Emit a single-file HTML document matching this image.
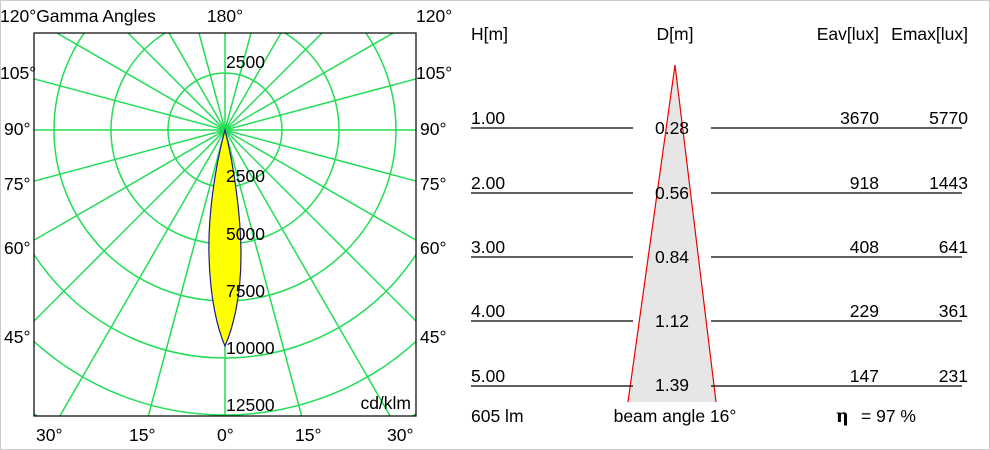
<!DOCTYPE html>
<html><head><style>
html,body{margin:0;padding:0;background:#fff;width:990px;height:450px;overflow:hidden}
svg{display:block}
text{font-family:"Liberation Sans",Arial,sans-serif;font-size:17.5px;fill:#000}
</style></head><body>
<svg width="990" height="450" viewBox="0 0 990 450">
<rect x="0.5" y="0.5" width="989" height="449" fill="#fff" stroke="#ccc"/>
<defs><clipPath id="c"><rect x="34" y="33" width="382" height="383"/></clipPath></defs>
<g clip-path="url(#c)" stroke="#22dd55" stroke-width="1.5" fill="none">
<circle cx="225" cy="130" r="57"/><circle cx="225" cy="130" r="114"/><circle cx="225" cy="130" r="171"/>
<circle cx="225" cy="130" r="228"/><circle cx="225" cy="130" r="285"/><circle cx="225" cy="130" r="342"/>
<line x1="-375" y1="130" x2="825" y2="130"/>
<line x1="225" y1="-470" x2="225" y2="730"/>
<line x1="-355" y1="-25.3" x2="805" y2="285.3"/>
<line x1="-355" y1="285.3" x2="805" y2="-25.3"/>
<line x1="-295" y1="-170" x2="745" y2="430"/>
<line x1="-295" y1="430" x2="745" y2="-170"/>
<line x1="-199" y1="-294" x2="649" y2="554"/>
<line x1="-199" y1="554" x2="649" y2="-294"/>
<line x1="-75" y1="-389.6" x2="525" y2="649.6"/>
<line x1="-75" y1="649.6" x2="525" y2="-389.6"/>
<line x1="69.7" y1="-449.6" x2="380.3" y2="709.6"/>
<line x1="69.7" y1="709.6" x2="380.3" y2="-449.6"/>
</g>
<path d="M225,130 C214,170 208,220 209,255 C210,300 218,330 225,346 C232,330 241,300 241,255 C241,220 235,170 225,130Z" fill="#ffff00" stroke="#1a1a8a" stroke-width="1.2"/>
<rect x="34" y="33" width="382" height="383" fill="none" stroke="#000" stroke-width="1.2"/>
<text x="226" y="68">2500</text>
<text x="226" y="182">2500</text>
<text x="226" y="240">5000</text>
<text x="226" y="297">7500</text>
<text x="226" y="354">10000</text>
<text x="226" y="411">12500</text>
<text x="411" y="409" text-anchor="end">cd/klm</text>
<text x="0" y="22">120°Gamma Angles</text>
<text x="225" y="22" text-anchor="middle">180°</text>
<text x="416" y="22">120°</text>
<text x="0" y="79">105°</text><text x="416" y="79">105°</text>
<text x="4" y="135">90°</text><text x="420" y="135">90°</text>
<text x="4" y="190">75°</text><text x="420" y="190">75°</text>
<text x="4" y="254">60°</text><text x="420" y="254">60°</text>
<text x="4" y="343">45°</text><text x="420" y="343">45°</text>
<text x="36" y="441">30°</text><text x="129" y="441">15°</text><text x="217" y="441">0°</text>
<text x="295" y="441">15°</text><text x="387" y="441">30°</text>

<text x="471" y="40">H[m]</text>
<text x="675" y="40" text-anchor="middle">D[m]</text>
<text x="879" y="40" text-anchor="end">Eav[lux]</text>
<text x="968" y="40" text-anchor="end">Emax[lux]</text>
<polygon points="675,65 628,402 716,402" fill="#e6e6e6"/>
<line x1="675" y1="65" x2="628" y2="402" stroke="#e00" stroke-width="1.2"/>
<line x1="675" y1="65" x2="716" y2="402" stroke="#e00" stroke-width="1.2"/>
<g stroke="#000" stroke-width="1.2">
<line x1="471" y1="128" x2="633" y2="128"/><line x1="711" y1="128" x2="962" y2="128"/>
<line x1="471" y1="193" x2="633" y2="193"/><line x1="711" y1="193" x2="962" y2="193"/>
<line x1="471" y1="257" x2="633" y2="257"/><line x1="711" y1="257" x2="962" y2="257"/>
<line x1="471" y1="321" x2="633" y2="321"/><line x1="711" y1="321" x2="962" y2="321"/>
<line x1="471" y1="386" x2="633" y2="386"/><line x1="711" y1="386" x2="962" y2="386"/>
</g>
<g>
<text x="471" y="124">1.00</text><text x="672" y="134" text-anchor="middle">0.28</text><text x="879" y="124" text-anchor="end">3670</text><text x="968" y="124" text-anchor="end">5770</text>
<text x="471" y="189">2.00</text><text x="672" y="199" text-anchor="middle">0.56</text><text x="879" y="189" text-anchor="end">918</text><text x="968" y="189" text-anchor="end">1443</text>
<text x="471" y="253">3.00</text><text x="672" y="263" text-anchor="middle">0.84</text><text x="879" y="253" text-anchor="end">408</text><text x="968" y="253" text-anchor="end">641</text>
<text x="471" y="317">4.00</text><text x="672" y="327" text-anchor="middle">1.12</text><text x="879" y="317" text-anchor="end">229</text><text x="968" y="317" text-anchor="end">361</text>
<text x="471" y="382">5.00</text><text x="672" y="391" text-anchor="middle">1.39</text><text x="879" y="382" text-anchor="end">147</text><text x="968" y="382" text-anchor="end">231</text>
</g>
<text x="471" y="422">605 lm</text>
<text x="675" y="422" text-anchor="middle">beam angle 16°</text>
<text x="836" y="422" style="font-family:'DejaVu Serif',serif;font-weight:bold">η</text>
<text x="861" y="422">= 97 %</text>
</svg>
</body></html>
